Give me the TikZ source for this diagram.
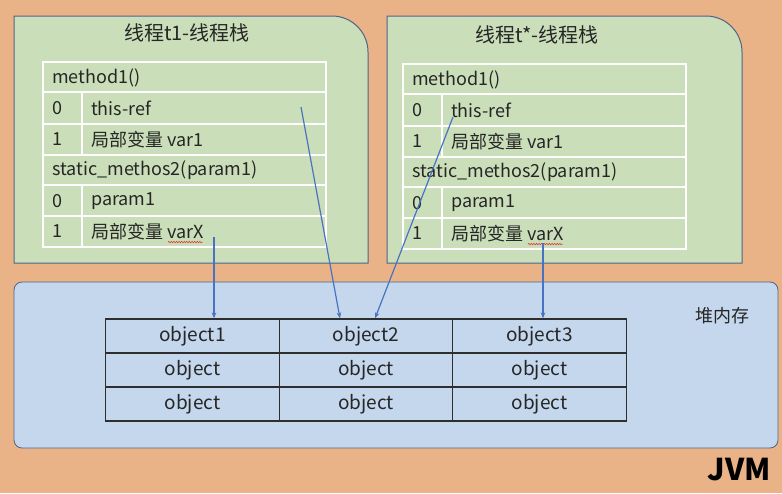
\documentclass[tikz,border=0pt]{standalone}
\usepackage{fontspec}
\setmainfont{Noto Sans CJK SC}
\usetikzlibrary{arrows.meta,decorations.pathmorphing}
\definecolor{bgorange}{HTML}{EAB287}
\definecolor{stackgreen}{HTML}{CADFB9}
\definecolor{heapblue}{HTML}{C4D7EC}
\definecolor{frameline}{HTML}{4F6487}
\definecolor{arrowblue}{HTML}{4A72C2}
\definecolor{gridline}{HTML}{2E2E2E}
\definecolor{squig}{HTML}{E03030}
\tikzset{
  panel/.style={draw=frameline,fill=stackgreen,line width=1pt},
  heapbox/.style={draw=frameline,fill=heapblue,line width=0.8pt,rounded corners=8pt},
  tabline/.style={draw=white,line width=1.2pt},
  celltext/.style={anchor=west,inner sep=0pt,font=\fontsize{18}{20}\selectfont,text=black!85},
  titletext/.style={inner sep=0pt,font=\fontsize{20}{23}\selectfont,text=black!85},
  objcell/.style={draw=gridline,line width=1.2pt,minimum width=173.5pt,minimum height=34pt,inner sep=0pt,font=\fontsize{19}{21}\selectfont,text=black!85},
  ref/.style={draw=arrowblue,line width=1.2pt,-{Stealth[length=6pt,width=4.5pt]}},
  squiggle/.style={draw=squig,line width=0.5pt,decorate,decoration={snake,amplitude=0.8pt,segment length=2.6pt}},
  stacktab/.pic={
    \draw[tabline] (0,0) rectangle (283,185);
    \draw[tabline] (0,62)--(283,62) (0,93)--(283,93) (0,123)--(283,123) (0,154)--(283,154);
    \draw[tabline,line width=2.6pt] (0,30)--(283,30);
    \draw[tabline] (39,30)--(39,93) (39,123)--(39,185);
    \node[celltext] (-m1) at (9,15.5) {method1()};
    \node[celltext] (-i0) at (9,46.5) {0};
    \node[celltext] (-this) at (48,46.5) {this-ref};
    \node[celltext] (-i1) at (9,77.5) {1};
    \node[celltext] (-var1) at (48,77.5) {局部变量 var1};
    \node[celltext] (-static) at (9,108.5) {static\_methos2(param1)};
    \node[celltext] (-j0) at (9,139) {0};
    \node[celltext] (-param) at (48,139) {param1};
    \node[celltext] (-j1) at (9,169.5) {1};
    \node[celltext] (-varx) at (48,169.5) {局部变量 varX};
    \coordinate (-sqa) at ([xshift=-36pt,yshift=-2pt]-varx.south east);
    \coordinate (-sqb) at ([xshift=-1pt,yshift=-2pt]-varx.south east);
    \draw[squiggle] (-sqa) -- (-sqb);
  }
}
\begin{document}
\begin{tikzpicture}[x=1pt,y=-1pt]
\fill[bgorange] (0,0) rectangle (782,493);
\useasboundingbox (0,0) rectangle (782,493);

% thread stack panels
\draw[panel] (14,263) -- (14,16) [rounded corners=36pt] -- (368,16) [sharp corners] -- (368,263) -- cycle;
\draw[panel] (387,263) -- (387,16) [rounded corners=36pt] -- (742,16) [sharp corners] -- (742,263) -- cycle;
\node[titletext] (t1title) at (187,33) {线程t1-线程栈};
\node[titletext] (t2title) at (537,35) {线程t*-线程栈};

\pic (L) at (43,62) {stacktab};
\pic (R) at (403,64) {stacktab};

% heap
\draw[heapbox] (14,282) rectangle (778,448);
\node[inner sep=0pt,font=\fontsize{18}{20}\selectfont,text=black!85] (heaplabel) at (722,316) {堆内存};

\node[objcell] (o11) at (192.5,336) {object1};
\node[objcell] (o12) at (366,336) {object2};
\node[objcell] (o13) at (539.5,336) {object3};
\node[objcell] (o21) at (192.5,370) {object};
\node[objcell] (o22) at (366,370) {object};
\node[objcell] (o23) at (539.5,370) {object};
\node[objcell] (o31) at (192.5,404) {object};
\node[objcell] (o32) at (366,404) {object};
\node[objcell] (o33) at (539.5,404) {object};

\node[anchor=east,inner sep=0pt,font=\bfseries\fontsize{30}{32}\selectfont] (jvm) at (771,470) {JVM};

% references
\coordinate (a1) at (214,237);
\coordinate (a2) at (301,107);
\coordinate (a3) at (453,117);
\coordinate (a4) at (543,243);
\coordinate (e2a) at ([xshift=-26pt]o12.north);
\coordinate (e2b) at ([xshift=9pt]o12.north);
\draw[ref] (a1) -- (a1 |- o11.north);
\draw[ref] (a2) -- (e2a);
\draw[ref] (a3) -- (e2b);
\draw[ref] (a4) -- (a4 |- o13.north);
\end{tikzpicture}
\end{document}
